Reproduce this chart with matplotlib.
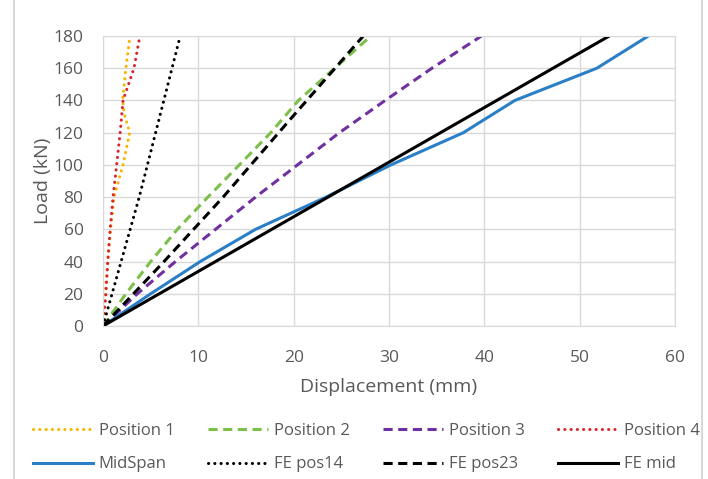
import matplotlib
matplotlib.use("Agg")
import matplotlib.pyplot as plt
from matplotlib.lines import Line2D

plt.rcParams['font.family'] = ['Open Sans', 'DejaVu Sans']

# ---------- DATA (displacement mm, load kN) ----------
pos1_x = [0, 0.25, 0.5, 0.8, 1.15, 2.1, 2.8, 2.3, 2.05, 2.4, 2.83]
pos1_y = [0, 20, 40, 60, 80, 100, 120, 130, 140, 160, 180]

pos2_x = [0, 2.4, 5.0, 7.8, 11.0, 14.3, 17.6, 20.5, 24.3, 28.1]
pos2_y = [0, 20, 40, 60, 80, 100, 120, 140, 160, 180]

pos3_x = [0, 3.6, 7.6, 11.8, 16.0, 20.4, 24.8, 29.6, 34.5, 39.7]
pos3_y = [0, 20, 40, 60, 80, 100, 120, 140, 160, 180]

pos4_x = [0, 0.3, 0.5, 0.75, 1.05, 1.43, 1.8, 2.1, 3.25, 3.87]
pos4_y = [0, 20, 40, 60, 80, 100, 120, 140, 160, 180]

mid_x = [0, 5.0, 10.2, 16.0, 23.4, 30.2, 37.8, 43.2, 51.8, 57.2]
mid_y = [0, 20, 40, 60, 80, 100, 120, 140, 160, 180]

fe14_x = [0, 3.8, 8.1]
fe14_y = [0, 80, 180]

fe23_x = [0, 6.4, 12.6, 19.6, 27.3]
fe23_y = [0, 40, 80, 128, 180]

femid_x = [0, 53.1]
femid_y = [0, 180]

# ---------- STYLES ----------
DOT = (0, (0.05, 2.0))
DASH = (0, (3.0, 1.8))
LW = 2.2
TXT = '#595959'

fig = plt.figure(figsize=(7.08, 4.79), dpi=100)
ax = fig.add_axes([103/708, 1 - 326/479, 572/708, 290/479])

h1, = ax.plot(pos1_x, pos1_y, color='#F7B500', lw=LW, ls=DOT, dash_capstyle='round', label='Position 1')
h2, = ax.plot(pos2_x, pos2_y, color='#7CC04B', lw=LW, ls=DASH, label='Position 2')
h3, = ax.plot(pos3_x, pos3_y, color='#7030A0', lw=LW, ls=DASH, label='Position 3')
h4, = ax.plot(pos4_x, pos4_y, color='#D7262B', lw=LW, ls=DOT, dash_capstyle='round', label='Position 4')
h5, = ax.plot(mid_x, mid_y, color='#2A7FC6', lw=LW, label='MidSpan')
h6, = ax.plot(fe14_x, fe14_y, color='black', lw=LW, ls=DOT, dash_capstyle='round', label='FE pos14')
h7, = ax.plot(fe23_x, fe23_y, color='black', lw=LW, ls=DASH, label='FE pos23')
h8, = ax.plot(femid_x, femid_y, color='black', lw=LW, label='FE mid')

ax.set_xlim(0, 60)
ax.set_ylim(0, 180)
ax.set_xticks(range(0, 61, 10))
ax.set_yticks(range(0, 181, 20))
ax.grid(True, color='#D9D9D9', lw=1)
ax.set_axisbelow(True)
for s in ax.spines.values():
    s.set_color('#D9D9D9')
ax.tick_params(axis='both', length=0, labelsize=12.5, labelcolor=TXT)
ax.tick_params(axis='y', pad=14)
ax.tick_params(axis='x', pad=17)
ax.set_xlabel('Displacement (mm)', fontsize=14, color=TXT, labelpad=9)
ax.set_ylabel('Load (kN)', fontsize=14, color=TXT, labelpad=1)

# legend fills column by column, so interleave rows
handles = [h1, h5, h2, h6, h3, h7, h4, h8]
fig.legend(handles=handles, labels=[h.get_label() for h in handles],
           loc='upper left', bbox_to_anchor=(33/708, 1 - 423/479), ncol=4, frameon=False,
           fontsize=12, handlelength=3.6, handletextpad=0.35, columnspacing=2.0,
           labelspacing=1.05, labelcolor=TXT, borderaxespad=0, borderpad=0)

# outer chart frame (cropped Excel chart area)
fig.add_artist(Line2D([14/708, 14/708], [0, 1], color='#D9D9D9', lw=1.5))
fig.add_artist(Line2D([702/708, 702/708], [0, 1], color='#D9D9D9', lw=1.5))

fig.savefig('out.png', dpi=100)
